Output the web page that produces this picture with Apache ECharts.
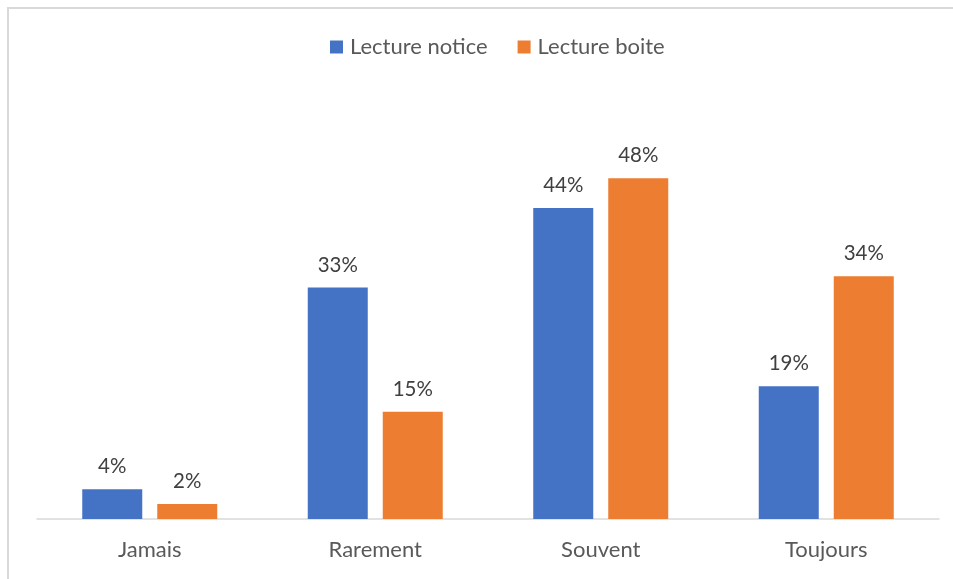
<!DOCTYPE html>
<html>
<head>
<meta charset="utf-8">
<script src="https://cdn.jsdelivr.net/npm/echarts@6/dist/echarts.min.js"></script>
<style>
  html, body { margin: 0; padding: 0; background: #fff; }
  #frame {
    position: absolute; left: 7px; top: 7px; width: 960px; height: 590px;
    border-top: 2px solid #d9d9d9; border-left: 2px solid #d9d9d9;
  }
  #chart { position: absolute; left: 0; top: 0; width: 953px; height: 579px; }
</style>
</head>
<body>
<div id="frame"></div>
<div id="chart"></div>
<script>
const categories = ['Jamais', 'Rarement', 'Souvent', 'Toujours']
const noticeValues = [4.2, 32.6, 43.8, 18.7]
const boiteValues = [2.1, 15.1, 48.0, 34.2]

const fontFamily = 'Lato, "Open Sans", sans-serif'
const chart = echarts.init(document.getElementById('chart'))

const labelStyle = {
  show: true,
  position: 'top',
  distance: 12,
  fontFamily: fontFamily,
  fontSize: 20.5,
  color: '#404040',
  formatter: function (p) {
    return Math.round(p.value) + '%'
  }
}

chart.setOption({
  animation: false,
  legend: {
    top: 31,
    left: 325,
    itemWidth: 13,
    itemHeight: 13,
    itemGap: 30,
    icon: 'rect',
    textStyle: { fontFamily: fontFamily, fontSize: 22, color: '#595959', padding: [0, 0, 0, 2] }
  },
  grid: { left: 37, right: 14, top: 164, bottom: 60 },
  xAxis: {
    type: 'category',
    data: categories,
    axisLine: { lineStyle: { color: '#d9d9d9', width: 1.5 } },
    axisTick: { show: false },
    axisLabel: { fontFamily: fontFamily, fontSize: 22, color: '#595959', margin: 20 }
  },
  yAxis: {
    type: 'value',
    min: 0,
    max: 50,
    show: false,
    splitLine: { show: false }
  },
  series: [
    {
      name: 'Lecture notice',
      type: 'bar',
      data: noticeValues,
      barWidth: 60,
      barGap: '25%',
      itemStyle: { color: '#4472c4' },
      label: labelStyle
    },
    {
      name: 'Lecture boite',
      type: 'bar',
      data: boiteValues,
      barWidth: 60,
      itemStyle: { color: '#ed7d31' },
      label: labelStyle
    }
  ]
})
</script>
</body>
</html>
